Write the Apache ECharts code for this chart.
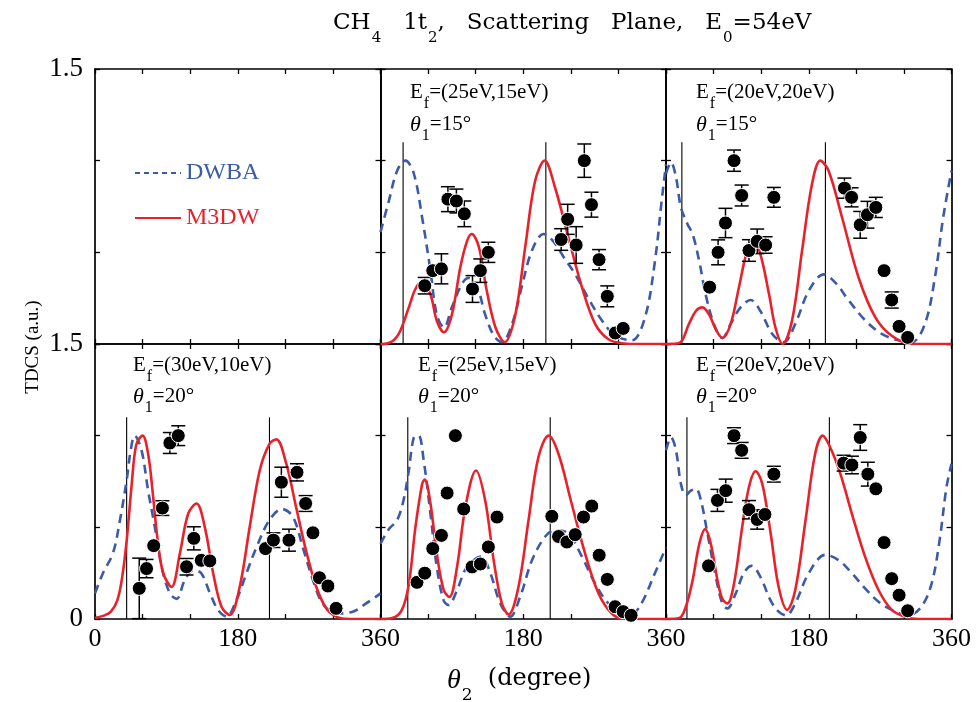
<!DOCTYPE html>
<html><head><meta charset="utf-8">
<script src="https://cdn.jsdelivr.net/npm/echarts@6/dist/echarts.min.js"></script>
<style>html,body{margin:0;padding:0;background:#fff}#c{width:977px;height:702px}</style>
</head><body><div id="c"></div>
<script>
// ---------- data (theta2 in degrees, TDCS in a.u.) ----------
// Panel A: Ef=(25eV,15eV), theta1=15
const dwbaA = [[0,0.61],[10.5,0.78],[21,0.945],[31.5,1.0],[42,0.93],[52.5,0.69],[63,0.40],[71,0.16],[80,0.09],[90,0.2],[103,0.33],[111,0.36],[122,0.31],[132,0.16],[143,0.045],[153,0.01],[166,0.11],[178,0.31],[191,0.51],[205.6,0.60],[218,0.56],[233,0.46],[245.5,0.38],[262,0.25],[279,0.13],[296,0.045],[317,0.02],[333.5,0.145],[346,0.45],[354.5,0.78],[360,0.98]];
const m3dwA = [[0,0],[10.5,0.005],[23,0.055],[35.7,0.2],[44,0.30],[52.5,0.34],[63,0.27],[71,0.127],[80,0.064],[90,0.16],[100.7,0.42],[109,0.56],[115,0.60],[124,0.53],[134,0.29],[145,0.09],[156.5,0.01],[170,0.16],[182.5,0.53],[195,0.89],[207,1.0],[220,0.855],[237,0.58],[254,0.31],[270.6,0.11],[287,0.027],[304,0.004],[320,0],[360,0]];
const expA = [[55.8,0.318,0.045],[65.9,0.40,null],[76.8,0.41,0.082],[85,0.79,0.068],[95.7,0.78,0.065],[105.7,0.71,0.07],[116,0.30,0.073],[125.9,0.40,0.064],[136,0.50,0.055],[227.8,0.57,0.059],[236,0.68,0.082],[246.7,0.54,0.1],[257,1.0,0.091],[266,0.76,0.068],[275.6,0.46,0.055],[286,0.26,0.057],[296,0.06,null],[306,0.085,null]];
const qA = [28.5, 208.5];

// Panel B: Ef=(20eV,20eV), theta1=15
const dwbaB = [[0,0.93],[6.3,0.99],[12.6,0.91],[18.8,0.745],[27,0.655],[33.5,0.60],[42,0.45],[50,0.27],[60.7,0.105],[71,0.033],[81.6,0.11],[94,0.2],[106.7,0.24],[119,0.18],[134,0.055],[148.6,0.01],[163,0.11],[180,0.29],[199,0.38],[213.5,0.335],[230,0.24],[251,0.13],[272,0.055],[293,0.02],[310,0.01],[326.5,0.11],[339,0.36],[349.5,0.69],[360,0.945]];
const m3dwB = [[0,0],[16.7,0.005],[29,0.11],[37.7,0.18],[46,0.2],[54.4,0.16],[62.8,0.08],[71,0.033],[81.6,0.11],[92,0.31],[102.6,0.51],[111,0.555],[119,0.49],[130,0.27],[138,0.09],[147,0.0],[159,0.13],[171.6,0.51],[184,0.87],[194.6,1.0],[205,0.945],[222,0.69],[243,0.36],[264,0.145],[284.6,0.045],[310,0.0],[360,0]];
const expB = [[55,0.31,null],[65.7,0.50,0.068],[75,0.66,0.08],[85.8,1.0,0.058],[95.4,0.81,0.057],[104.6,0.51,0.059],[115,0.56,0.067],[125.6,0.54,0.045],[136,0.80,0.054],[225,0.85,0.055],[234,0.80,0.052],[244.9,0.65,0.073],[254,0.705,0.073],[264.6,0.745,0.055],[275,0.40,null],[284.6,0.24,0.044],[293.9,0.096,null],[304.7,0.036,null]];
const qB = [20, 201];

// Panel C: Ef=(30eV,10eV), theta1=20
const dwbaC = [[0,0.14],[10,0.25],[22.7,0.36],[31.5,0.54],[40,0.76],[45,0.92],[50,1.0],[58.7,0.92],[67,0.70],[75.5,0.50],[84,0.285],[94.4,0.14],[103,0.11],[113,0.21],[124,0.266],[134,0.25],[145,0.14],[155,0.05],[166,0.013],[178,0.10],[191,0.25],[203.5,0.39],[220,0.54],[236,0.60],[249.7,0.556],[262,0.39],[275,0.21],[287,0.085],[304,0.03],[325,0.04],[342,0.085],[360,0.14]];
const m3dwC = [[0,0.005],[12,0.02],[20,0.04],[28,0.1],[34,0.22],[40,0.43],[46,0.72],[52,0.95],[60,1.0],[67,0.9],[73,0.68],[79,0.43],[86,0.25],[96.5,0.175],[107,0.357],[117.5,0.574],[128,0.63],[138.5,0.50],[149,0.25],[159.5,0.067],[170,0.022],[182.5,0.176],[195,0.50],[207.7,0.81],[220,0.955],[228.7,0.98],[241,0.85],[253.6,0.61],[266,0.375],[279,0.176],[291.6,0.058],[304,0.013],[321,0],[360,0]];
const expC = [[55.8,0.167,0.165],[65,0.275,0.05],[74,0.40,null],[85,0.605,0.04],[94.4,0.96,0.057],[105,1.0,0.054],[115.4,0.285,0.045],[124.6,0.44,0.063],[134,0.32,null],[144.8,0.317,null],[215,0.384,null],[225,0.43,0.04],[235,0.746,0.082],[244.6,0.43,0.06],[254.7,0.80,0.047],[265.6,0.63,0.043],[274.8,0.47,null],[283,0.225,null],[293.7,0.18,null],[304,0.058,null]];
const qC = [39.9, 220];

// Panel D: Ef=(25eV,15eV), theta1=20
const dwbaD = [[0,0.41],[10.5,0.49],[21,0.54],[29,0.647],[35.7,0.81],[42,0.99],[48,1.0],[54.5,0.864],[63,0.574],[71,0.284],[79.7,0.10],[86,0.076],[96.5,0.158],[109,0.284],[127,0.34],[138.5,0.25],[151,0.085],[163.6,0.013],[176,0.12],[191,0.32],[207.7,0.45],[220,0.484],[237,0.466],[254,0.34],[270.6,0.194],[287.4,0.085],[304,0.04],[315,0.02],[329,0.085],[346,0.25],[360,0.39]];
const m3dwD = [[0,0],[14.7,0.005],[27,0.05],[35.7,0.19],[44,0.50],[52.5,0.737],[55.8,0.76],[63,0.63],[71,0.357],[79.7,0.158],[86.9,0.12],[96.5,0.284],[107,0.61],[120.4,0.81],[132,0.647],[142.7,0.32],[153,0.085],[161.5,0.025],[174,0.176],[186.7,0.54],[199,0.88],[212,1.0],[224.5,0.90],[241,0.63],[258,0.357],[274.8,0.14],[291.6,0.03],[308,0],[360,0]];
const expD = [[46,0.20,null],[55.8,0.25,null],[65.9,0.384,null],[76.8,0.456,null],[84,0.687,null],[94.4,1.0,null],[104.9,0.60,null],[115.4,0.284,null],[125.9,0.30,null],[136,0.393,null],[146.9,0.556,null],[216,0.56,null],[224.5,0.45,null],[235,0.42,null],[245.5,0.46,null],[256,0.556,null],[266.4,0.616,null],[275.7,0.348,null],[286,0.216,null],[295.8,0.067,null],[306,0.04,null],[316,0.02,null]];
const qD = [34.4, 214];

// Panel E: Ef=(20eV,20eV), theta1=20
const dwbaE = [[0,0.92],[6.3,0.99],[12.6,0.92],[18.8,0.737],[25,0.674],[31.4,0.70],[37.7,0.71],[44,0.647],[52.3,0.466],[62.8,0.23],[71,0.085],[77.4,0.058],[88,0.14],[98,0.25],[108,0.29],[119,0.23],[132,0.10],[142,0.04],[151.5,0.02],[163,0.085],[180,0.25],[201,0.35],[218,0.32],[234.4,0.25],[251,0.167],[268,0.094],[284.6,0.05],[305.6,0.02],[322,0.067],[335,0.194],[345,0.43],[353.7,0.72],[360,0.846]];
const m3dwE = [[0,0],[16.7,0.005],[25,0.067],[33.5,0.21],[42,0.41],[49.4,0.49],[56.5,0.41],[65,0.21],[71,0.11],[77.4,0.085],[85.8,0.194],[96,0.50],[104.6,0.72],[113,0.806],[121.4,0.737],[132,0.466],[142,0.176],[152.8,0.05],[163,0.158],[176,0.54],[188,0.90],[197.6,1.0],[207,0.937],[220,0.79],[234.4,0.574],[251,0.34],[268,0.158],[284.6,0.05],[301,0.013],[318,0],[360,0]];
const expE = [[53.6,0.29,null],[64.9,0.647,0.06],[75.3,0.70,0.063],[85.8,1.0,0.043],[95.4,0.92,0.043],[104.6,0.596,0.05],[115,0.543,0.053],[124.7,0.57,null],[136,0.79,0.043],[224,0.85,0.043],[234.4,0.84,0.048],[244.9,0.99,0.07],[254.5,0.79,0.065],[264.6,0.71,null],[275,0.417,null],[284.6,0.22,null],[293.9,0.13,null],[304.7,0.045,null]];
const qE = [26.4, 206];

const qLineTop = 1.1;
const xTicks = [0, 180, 360];
const yTickTop = 1.5;

const panelLabels = [null,
  ['(25eV,15eV)', '15°'], ['(20eV,20eV)', '15°'],
  ['(30eV,10eV)', '20°'], ['(25eV,15eV)', '20°'], ['(20eV,20eV)', '20°']];

// ---------- chart ----------
const FONT = "'Liberation Serif','DejaVu Serif',serif";
const FONT2 = "'DejaVu Serif','Liberation Serif',serif";
const BLUE = '#3b5ba8', RED = '#e8212b';
const panels = [null,
  {dwba: dwbaA, m3dw: m3dwA, exp: expA, q: qA},
  {dwba: dwbaB, m3dw: m3dwB, exp: expB, q: qB},
  {dwba: dwbaC, m3dw: m3dwC, exp: expC, q: qC},
  {dwba: dwbaD, m3dw: m3dwD, exp: expD, q: qD},
  {dwba: dwbaE, m3dw: m3dwE, exp: expE, q: qE}];
const rects = [[95,69],[380.5,69],[666,69],[95,344],[380.5,344],[666,344]];
const W = 285.5, H = 275;
const annotPos = [null, [410,82,114], [696,82,114], [133,355,386], [418,355,386], [696,355,386]];

const grid = [], xAxis = [], yAxis = [], series = [], title = [];
const axLine = {show: true, onZero: false, lineStyle: {color: '#000', width: 1.7}};
const axTick = {show: true, inside: true, length: 5, lineStyle: {color: '#000', width: 1.3}};

for (let i = 0; i < 6; i++) {
  const row = Math.floor(i / 3), col = i % 3;
  grid.push({left: rects[i][0], top: rects[i][1], width: W, height: H, containLabel: false});
  xAxis.push({gridIndex: i, type: 'value', min: 0, max: 360, interval: 60, position: 'bottom',
    axisLine: axLine, axisTick: axTick, splitLine: {show: false},
    axisLabel: {show: row === 1, margin: 7, color: '#000', fontFamily: FONT, fontSize: 26,
      formatter: v => (xTicks.includes(v) && !(col > 0 && v === 0)) ? String(v) : ''}});
  xAxis.push({gridIndex: i, type: 'value', min: 0, max: 360, interval: 60, position: 'top',
    axisLine: axLine, axisTick: axTick, splitLine: {show: false}, axisLabel: {show: false}});
  yAxis.push({gridIndex: i, type: 'value', min: 0, max: 1.5, interval: 0.5, position: 'left',
    axisLine: axLine, axisTick: axTick, splitLine: {show: false},
    axisLabel: {show: col === 0, margin: 12, color: '#000', fontFamily: FONT, fontSize: 27,
      formatter: v => v === yTickTop ? '1.5' : (v === 0 && row === 1 ? '0' : '')}});
  yAxis.push({gridIndex: i, type: 'value', min: 0, max: 1.5, interval: 0.5, position: 'right',
    axisLine: axLine, axisTick: axTick, splitLine: {show: false}, axisLabel: {show: false}});

  const p = panels[i];
  const xi = 2 * i, yi = 2 * i;
  if (!p) {
    series.push({type: 'line', name: 'DWBA', xAxisIndex: xi, yAxisIndex: yi, data: [], symbol: 'none',
      lineStyle: {color: BLUE, width: 2, type: [5, 4]}, itemStyle: {color: BLUE}});
    series.push({type: 'line', name: 'M3DW', xAxisIndex: xi, yAxisIndex: yi, data: [], symbol: 'none',
      lineStyle: {color: RED, width: 2}, itemStyle: {color: RED}});
    continue;
  }
  series.push({type: 'custom', xAxisIndex: xi, yAxisIndex: yi, silent: true, z: 1,
    data: p.q.map(x => [x, qLineTop]),
    renderItem: (params, api) => {
      const a = api.coord([api.value(0), 0]), b = api.coord([api.value(0), api.value(1)]);
      return {type: 'line', shape: {x1: a[0], y1: a[1], x2: b[0], y2: b[1]}, style: {stroke: '#000', lineWidth: 1.1}};
    }});
  series.push({type: 'line', name: 'DWBA', xAxisIndex: xi, yAxisIndex: yi, data: p.dwba, symbol: 'none',
    smooth: 0.35, z: 2, lineStyle: {color: BLUE, width: 2.6, type: [9, 6]}, itemStyle: {color: BLUE}});
  series.push({type: 'line', name: 'M3DW', xAxisIndex: xi, yAxisIndex: yi, data: p.m3dw, symbol: 'none',
    smooth: 0.35, z: 3, lineStyle: {color: RED, width: 2.6}, itemStyle: {color: RED}});
  series.push({type: 'custom', xAxisIndex: xi, yAxisIndex: yi, silent: true, z: 4,
    data: p.exp.filter(d => d[2] != null),
    renderItem: (params, api) => {
      const x = api.value(0), y = api.value(1), e = api.value(2);
      const t = api.coord([x, y + e]), b = api.coord([x, y - e]);
      const hw = 7, st = {stroke: '#000', lineWidth: 1.5};
      return {type: 'group', children: [
        {type: 'line', shape: {x1: t[0], y1: t[1], x2: b[0], y2: b[1]}, style: st},
        {type: 'line', shape: {x1: t[0]-hw, y1: t[1], x2: t[0]+hw, y2: t[1]}, style: st},
        {type: 'line', shape: {x1: b[0]-hw, y1: b[1], x2: b[0]+hw, y2: b[1]}, style: st}]};
    }});
  series.push({type: 'scatter', xAxisIndex: xi, yAxisIndex: yi, z: 5, symbolSize: 14,
    data: p.exp.map(d => [d[0], d[1]]),
    itemStyle: {color: '#000', borderColor: '#fff', borderWidth: 1, opacity: 1}});

  const ap = annotPos[i];
  const nS = {fontFamily: FONT, fontSize: 21, fontWeight: 'normal', lineHeight: 23, color: '#000', verticalAlign: 'top'};
  const sS = {fontFamily: FONT, fontSize: 16, fontWeight: 'normal', lineHeight: 16, color: '#000', verticalAlign: 'top', padding: [14, 0, 0, 1]};
  title.push({left: ap[0], top: ap[1], padding: 0,
    text: '{n|E}{s|f}{n|=' + panelLabels[i][0] + '}',
    textStyle: {fontWeight: 'normal', rich: {n: nS, s: sS}}});
  title.push({left: ap[0], top: ap[2], padding: 0,
    text: '{it|θ}{s|1}{n|=' + panelLabels[i][1] + '}',
    textStyle: {fontWeight: 'normal', rich: {n: nS, s: sS, it: Object.assign({}, nS, {fontStyle: 'italic', fontSize: 22})}}});
}

const tN = {fontFamily: FONT2, fontSize: 23, fontWeight: 'normal', lineHeight: 26, color: '#000', verticalAlign: 'top'};
const tS = {fontFamily: FONT2, fontSize: 15, fontWeight: 'normal', lineHeight: 15, color: '#000', verticalAlign: 'top', padding: [19, 0, 0, 1]};
title.push({left: 333, top: 12, padding: 0,
  text: '{n|CH}{s|4}{n|   1t}{s|2}{n|,   Scattering   Plane,   E}{s|0}{n|=54eV}',
  textStyle: {fontWeight: 'normal', rich: {n: tN, s: tS}}});
const xN = {fontFamily: FONT2, fontSize: 24, fontWeight: 'normal', lineHeight: 28, color: '#000', verticalAlign: 'top'};
title.push({left: 447, top: 667, padding: 0,
  text: '{it|θ}{s|2}{n|  (degree)}',
  textStyle: {fontWeight: 'normal', rich: {n: xN, it: Object.assign({}, xN, {fontFamily: FONT, fontStyle: 'italic', fontSize: 28}),
    s: {fontFamily: FONT2, fontSize: 17, fontWeight: 'normal', lineHeight: 17, color: '#000', verticalAlign: 'top', padding: [20, 0, 0, 1]}}}});

const option = {
  animation: false,
  backgroundColor: '#fff',
  title: title,
  legend: {
    data: [{name: 'DWBA', textStyle: {color: BLUE}}, {name: 'M3DW', textStyle: {color: RED}}],
    orient: 'vertical', left: 129, top: 155, itemWidth: 46, itemHeight: 14, itemGap: 19,
    selectedMode: false,
    itemStyle: {opacity: 0},
    textStyle: {fontFamily: FONT, fontSize: 24, lineHeight: 26}
  },
  grid: grid, xAxis: xAxis, yAxis: yAxis, series: series,
  graphic: [{type: 'text', x: 33, y: 347, rotation: Math.PI / 2,
    style: {text: 'TDCS (a.u.)', font: "19px 'Liberation Serif', serif", fill: '#000',
      textAlign: 'center', textVerticalAlign: 'middle'}}]
};
const chart = echarts.init(document.getElementById('c'), null, {renderer: 'canvas'});
chart.setOption(option);
</script></body></html>
